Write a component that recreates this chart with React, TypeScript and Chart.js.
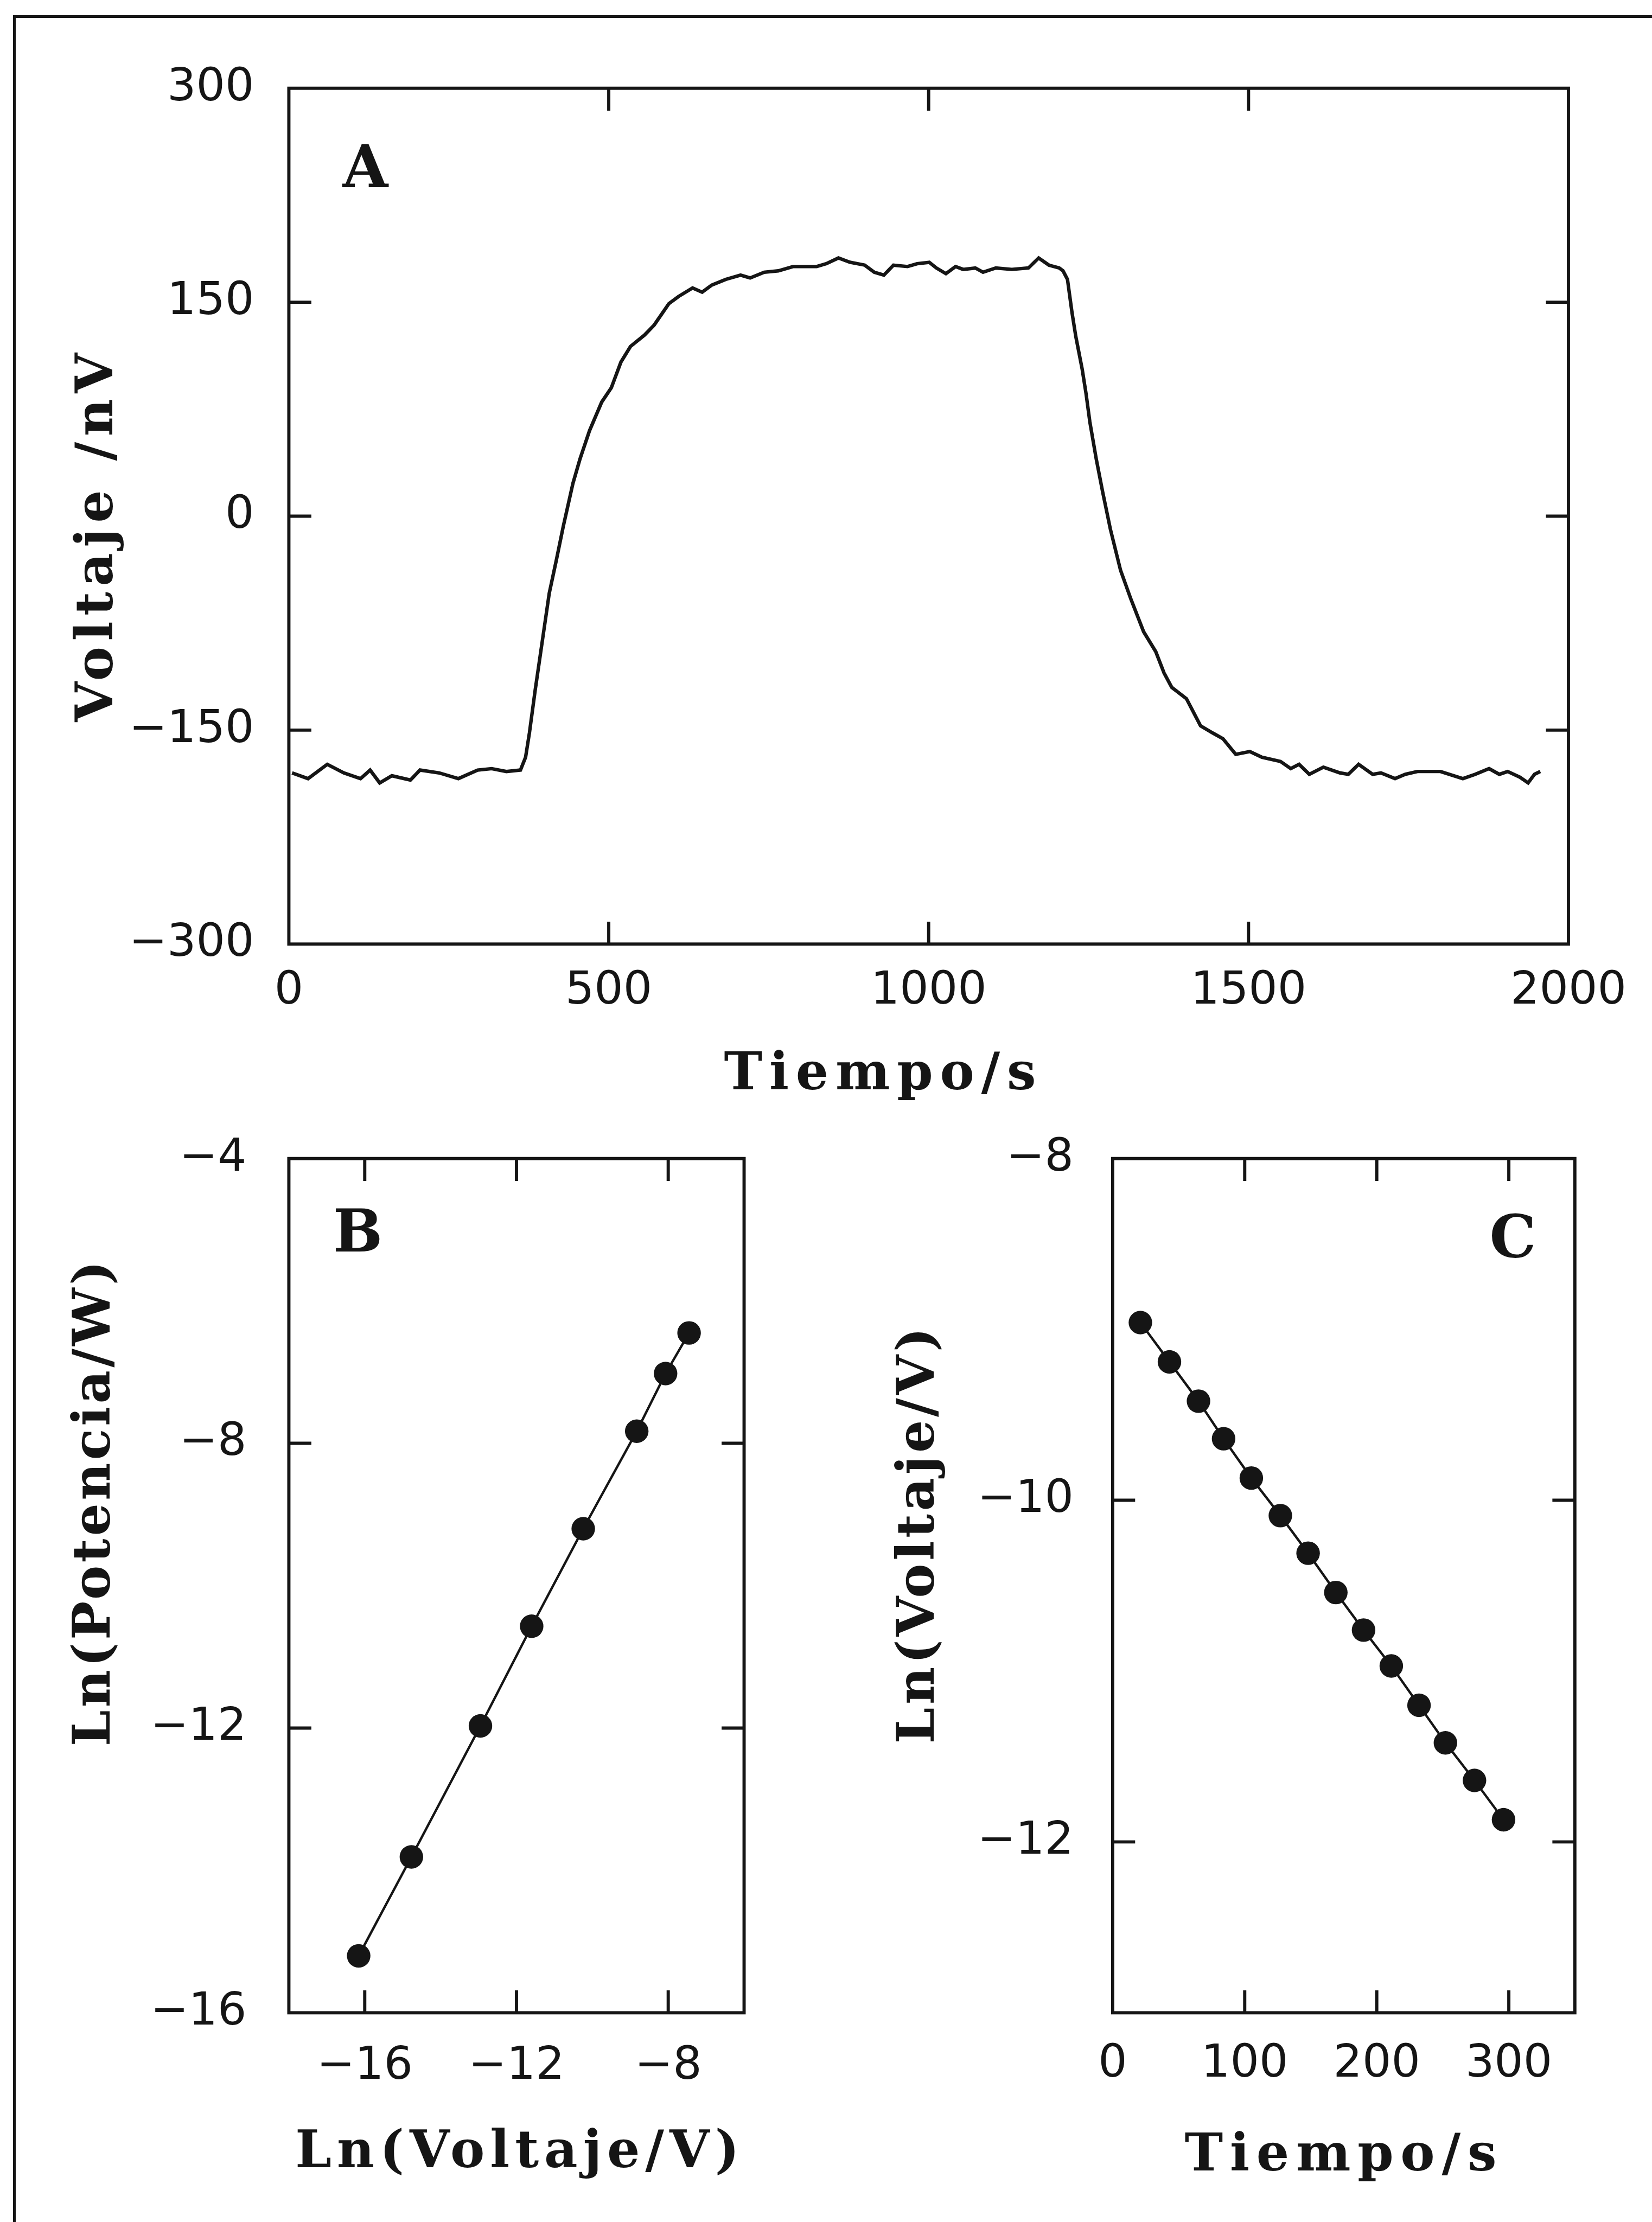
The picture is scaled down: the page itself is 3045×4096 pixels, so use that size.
import React, { useEffect, useRef } from "react";
import { Chart, registerables } from "chart.js";
Chart.register(...registerables);

const S = 0.986;
const INK = "#151515";

// ---------- Panel A: Voltaje vs Tiempo ----------
const timeA = [5, 30, 60, 86, 112, 127, 142, 161, 190, 205, 235, 265, 295, 317, 340, 362, 370, 376, 385, 396, 407, 418, 429, 444, 455, 470, 489, 504, 519, 534, 556, 571, 594, 609, 631, 646, 661, 683, 706, 721, 743, 765, 788, 825, 840, 859, 877, 900, 915, 930, 945, 967, 982, 1001, 1012, 1027, 1042, 1054, 1073, 1085, 1105, 1130, 1156, 1172, 1188, 1204, 1210, 1217, 1224, 1230, 1240, 1246, 1252, 1262, 1272, 1284, 1300, 1316, 1336, 1355, 1368, 1380, 1403, 1425, 1444, 1460, 1480, 1502, 1521, 1550, 1566, 1579, 1595, 1617, 1643, 1656, 1672, 1694, 1707, 1729, 1745, 1764, 1800, 1835, 1854, 1876, 1892, 1905, 1924, 1937, 1947, 1956];
const voltA = [-180, -184, -174, -180, -184, -178, -187, -182, -185, -178, -180, -184, -178, -177, -179, -178, -169, -152, -122, -88, -54, -31, -7, 23, 40, 60, 80, 90, 108, 119, 127, 134, 149, 154, 160, 157, 162, 166, 169, 167, 171, 172, 175, 175, 177, 181, 178, 176, 171, 169, 176, 175, 177, 178, 174, 170, 175, 173, 174, 171, 174, 173, 174, 181, 176, 174, 172, 166, 143, 126, 103, 86, 66, 40, 17, -9, -38, -58, -81, -95, -110, -120, -128, -147, -152, -156, -167, -165, -169, -172, -177, -174, -181, -176, -180, -181, -174, -181, -180, -184, -181, -179, -179, -184, -181, -177, -181, -179, -183, -187, -181, -179];
const ticksAX = [0, 500, 1000, 1500, 2000];
const ticksAY = [-300, -150, 0, 150, 300];

// ---------- Panel B: Ln(Potencia) vs Ln(Voltaje) ----------
const lnVoltB = [-16.16, -14.77, -12.95, -11.6, -10.24, -8.83, -8.07, -7.45];
const lnPotB = [-15.2, -13.81, -11.97, -10.57, -9.2, -7.83, -7.02, -6.45];
const ticksBX = [-16, -12, -8];
const ticksBY = [-16, -12, -8, -4];

// ---------- Panel C: Ln(Voltaje) vs Tiempo ----------
const timeC = [21, 43, 65, 84, 105, 127, 148, 169, 190, 211, 232, 252, 274, 296];
const lnVoltC = [-8.96, -9.19, -9.42, -9.64, -9.87, -10.09, -10.31, -10.54, -10.76, -10.97, -11.2, -11.42, -11.64, -11.87];
const ticksCX = [0, 100, 200, 300];
const ticksCY = [-12, -10, -8];

type TextSpec = { text: string; x: number; y: number; w?: number; rot?: boolean; size: number };

type PanelSpec = {
  canvas: [number, number, number, number]; // window px: left, top, width, height
  box: [number, number, number, number]; // reference px: l, t, r, b
  xs: number[];
  ys: number[];
  xMin: number; xMax: number; yMin: number; yMax: number;
  xTicks: number[]; yTicks: number[];
  lineW: number; pointR: number;
  yPad: number; xPad: number;
  texts: TextSpec[];
};

const fmt = (v: number | string) => {
  const n = Number(v);
  return n < 0 ? "\u2212" + Math.abs(n) : String(n);
};

const TITLE = 95;
const LETTER = 108;

const panels: PanelSpec[] = [
  {
    canvas: [0, 0, 3045, 2080],
    box: [540, 165, 2932, 1765],
    xs: timeA, ys: voltA,
    xMin: 0, xMax: 2000, yMin: -300, yMax: 300,
    xTicks: ticksAX, yTicks: ticksAY,
    lineW: 6.5, pointR: 0,
    yPad: 56, xPad: 29,
    texts: [
      { text: "Tiempo/s", x: 1645, y: 2037, w: 596, size: TITLE },
      { text: "Voltaje /nV", x: 210, y: 1005, w: 700, rot: true, size: TITLE },
      { text: "A", x: 683, y: 350, size: LETTER },
    ],
  },
  {
    canvas: [0, 1900, 1500, 2196],
    box: [540, 2166, 1391, 3763],
    xs: lnVoltB, ys: lnPotB,
    xMin: -18, xMax: -6, yMin: -16, yMax: -4,
    xTicks: ticksBX, yTicks: ticksBY,
    lineW: 4.5, pointR: 22,
    yPad: 70, xPad: 41,
    texts: [
      { text: "Ln(Voltaje/V)", x: 967, y: 4052, w: 840, size: TITLE },
      { text: "Ln(Potencia/W)", x: 205, y: 2811, w: 913, rot: true, size: TITLE },
      { text: "B", x: 669, y: 2340, size: LETTER },
    ],
  },
  {
    canvas: [1500, 1900, 1545, 2196],
    box: [2080, 2166, 2944, 3763],
    xs: timeC, ys: lnVoltC,
    xMin: 0, xMax: 350, yMin: -13, yMax: -8,
    xTicks: ticksCX, yTicks: ticksCY,
    lineW: 4.5, pointR: 22,
    yPad: 64, xPad: 37,
    texts: [
      { text: "Tiempo/s", x: 2506, y: 4058, w: 596, size: TITLE },
      { text: "Ln(Voltaje/V)", x: 1745, y: 2871, w: 784, rot: true, size: TITLE },
      { text: "C", x: 2828, y: 2350, size: LETTER },
    ],
  },
];

function drawText(ctx: CanvasRenderingContext2D, t: TextSpec, ox: number, oy: number) {
  ctx.save();
  ctx.font = `bold ${t.size}px "DejaVu Serif"`;
  ctx.fillStyle = INK;
  (ctx as any).letterSpacing = "0px";
  let ls = 0;
  if (t.w) {
    const nat = ctx.measureText(t.text).width;
    ls = (t.w * S - nat) / t.text.length;
    (ctx as any).letterSpacing = ls + "px";
  }
  ctx.textAlign = "center";
  ctx.textBaseline = "alphabetic";
  ctx.translate(t.x * S - ox, t.y * S - oy);
  if (t.rot) ctx.rotate(-Math.PI / 2);
  ctx.fillText(t.text, ls / 2, 0);
  ctx.restore();
}

function makeDeco(p: PanelSpec) {
  const [ox, oy] = p.canvas;
  return {
    id: "deco",
    afterDraw(chart: any) {
      const ctx: CanvasRenderingContext2D = chart.ctx;
      const a = chart.chartArea;
      const xs = chart.scales.x;
      const ys = chart.scales.y;
      const lw = 6 * S;
      const tl = 42 * S;
      ctx.save();
      ctx.strokeStyle = INK;
      ctx.lineWidth = lw;
      ctx.lineCap = "butt";
      ctx.beginPath();
      for (const t of xs.ticks) {
        if (t.value <= xs.min || t.value >= xs.max) continue;
        const px = xs.getPixelForValue(t.value);
        ctx.moveTo(px, a.top);
        ctx.lineTo(px, a.top + tl);
        ctx.moveTo(px, a.bottom);
        ctx.lineTo(px, a.bottom - tl);
      }
      for (const t of ys.ticks) {
        if (t.value <= ys.min || t.value >= ys.max) continue;
        const py = ys.getPixelForValue(t.value);
        ctx.moveTo(a.left, py);
        ctx.lineTo(a.left + tl, py);
        ctx.moveTo(a.right, py);
        ctx.lineTo(a.right - tl, py);
      }
      ctx.stroke();
      ctx.lineJoin = "miter";
      ctx.strokeRect(a.left, a.top, a.right - a.left, a.bottom - a.top);
      ctx.restore();
      for (const t of p.texts) drawText(ctx, t, ox, oy);
    },
  };
}

function Panel({ p }: { p: PanelSpec }) {
  const ref = useRef<HTMLCanvasElement>(null);
  useEffect(() => {
    const [ox, oy, cw, ch] = p.canvas;
    const L = p.box[0] * S - ox;
    const T = p.box[1] * S - oy;
    const R = p.box[2] * S - ox;
    const B = p.box[3] * S - oy;
    const YW = 440;
    const XH = 150;
    const tickFont = { family: "DejaVu Sans", size: 84 };
    const chart = new Chart(ref.current as HTMLCanvasElement, {
      type: "line",
      data: {
        datasets: [
          {
            data: p.xs.map((x, i) => ({ x, y: p.ys[i] })),
            borderColor: INK,
            backgroundColor: INK,
            borderWidth: p.lineW * S,
            pointRadius: p.pointR * S,
            pointBackgroundColor: INK,
            pointBorderWidth: 0,
            tension: 0,
            fill: false,
          },
        ],
      },
      options: {
        responsive: false,
        animation: false,
        devicePixelRatio: 1,
        events: [],
        layout: { padding: { left: L - YW, top: T, right: cw - R, bottom: ch - B - XH } },
        plugins: { legend: { display: false }, tooltip: { enabled: false }, title: { display: false } },
        scales: {
          x: {
            type: "linear",
            position: "bottom",
            min: p.xMin,
            max: p.xMax,
            grid: { display: false },
            border: { display: false },
            ticks: { font: tickFont, color: INK, padding: p.xPad, maxRotation: 0, autoSkip: false, callback: fmt },
            afterBuildTicks: (s: any) => {
              s.ticks = p.xTicks.map((v) => ({ value: v }));
            },
            afterFit: (s: any) => {
              s.height = XH;
            },
          },
          y: {
            type: "linear",
            position: "left",
            min: p.yMin,
            max: p.yMax,
            grid: { display: false },
            border: { display: false },
            ticks: { font: tickFont, color: INK, padding: p.yPad, autoSkip: false, callback: fmt },
            afterBuildTicks: (s: any) => {
              s.ticks = p.yTicks.map((v) => ({ value: v }));
            },
            afterFit: (s: any) => {
              s.width = YW;
            },
          },
        },
      } as any,
      plugins: [makeDeco(p)],
    });
    return () => chart.destroy();
  }, [p]);
  const [l, t, w, h] = p.canvas;
  return (
    <canvas
      ref={ref}
      width={w}
      height={h}
      style={{ position: "absolute", left: l, top: t, width: w, height: h, display: "block" }}
    />
  );
}

export default function App() {
  return (
    <div style={{ position: "absolute", left: 0, top: 0, width: 3045, height: 4096, background: "#fff", overflow: "hidden" }}>
      <div style={{ position: "absolute", left: 26 * S - 2, top: 31 * S - 2.5, width: 3045, height: 5, background: INK }} />
      <div style={{ position: "absolute", left: 27 * S - 2.5, top: 31 * S - 2.5, width: 5, height: 4096, background: INK }} />
      {panels.map((p, i) => (
        <Panel key={i} p={p} />
      ))}
    </div>
  );
}
